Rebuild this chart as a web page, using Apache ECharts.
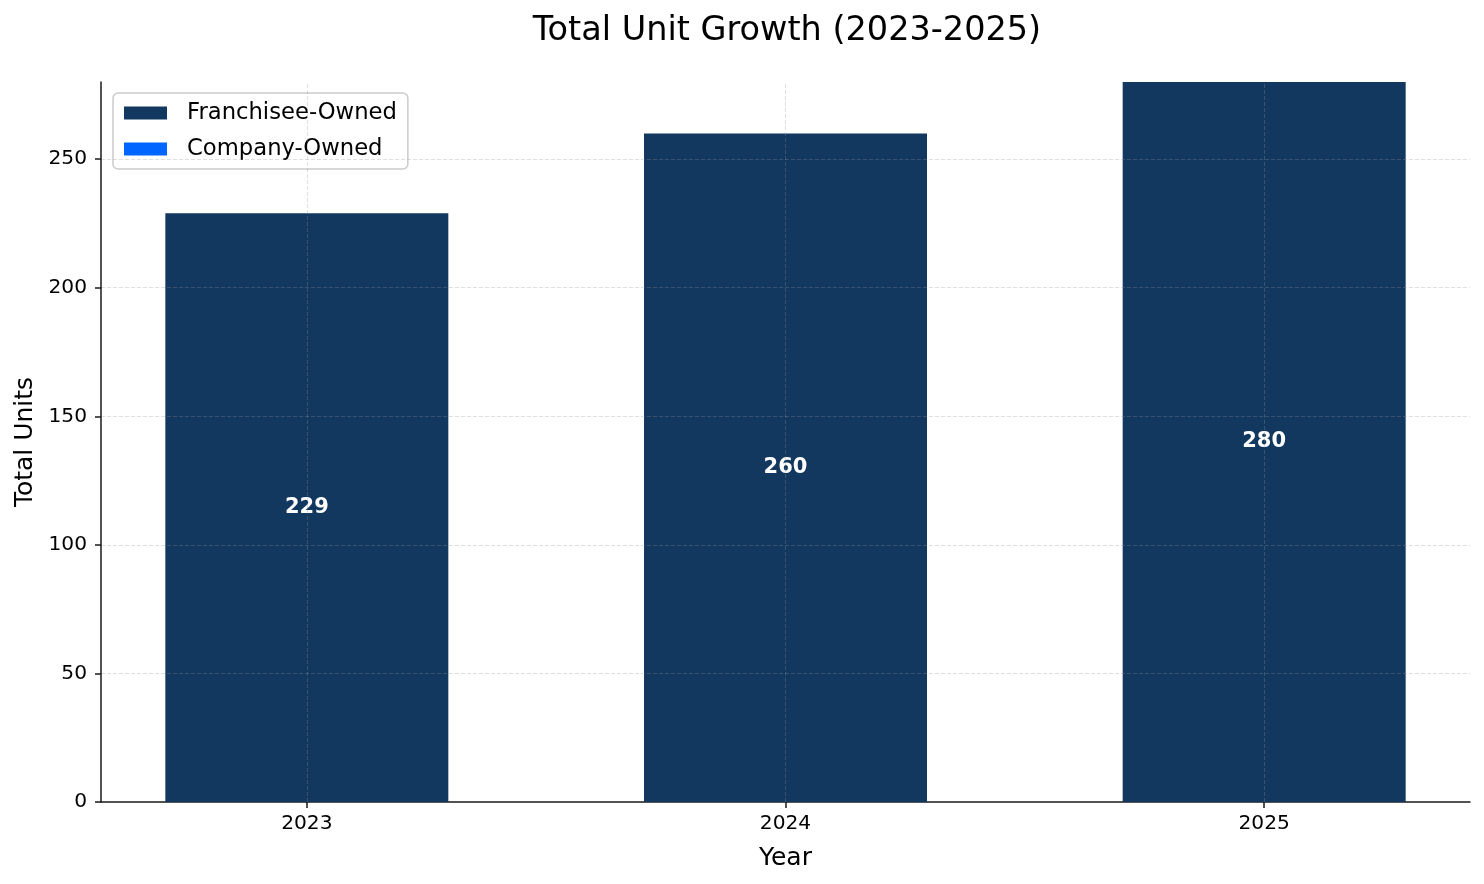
<!DOCTYPE html>
<html>
<head>
<meta charset="utf-8">
<script src="https://cdn.jsdelivr.net/npm/echarts@6.0.0/dist/echarts.min.js"></script>
<style>
html,body{margin:0;padding:0;background:#fff;}
#chart{width:1484px;height:884px;}
</style>
</head>
<body>
<div id="chart"></div>
<script>
var years = ['2023', '2024', '2025'];
var franchiseeOwned = [229, 260, 280];
var companyOwned = [0, 0, 0];
var totals = [229, 260, 280];
var yTicks = [0, 50, 100, 150, 200, 250];

var FONT = 'DejaVu Sans';
var chart = echarts.init(document.getElementById('chart'));
var idx = years.map(function (y, i) { return i; });
var gridLineStyle = { color: 'rgba(150,150,150,0.3)', type: [4, 2], width: 1 };

chart.setOption({
  animation: false,
  backgroundColor: '#ffffff',
  textStyle: { fontFamily: FONT },
  title: {
    text: 'Total Unit Growth (2023-2025)',
    left: 782, top: 9, textAlign: 'center',
    textStyle: { fontFamily: FONT, fontSize: 33.5, fontWeight: 'normal', color: '#000' }
  },
  legend: {
    orient: 'vertical', left: 113, top: 93,
    padding: [8, 11, 8, 11],
    itemWidth: 43, itemHeight: 13, itemGap: 12,
    icon: 'rect',
    selectedMode: false,
    backgroundColor: 'rgba(255,255,255,0.8)',
    borderColor: '#cccccc', borderWidth: 1.5, borderRadius: 5,
    textStyle: { fontFamily: FONT, fontSize: 22.7, color: '#000', padding: [0, 0, 0, 15], lineHeight: 24 },
    data: ['Franchisee-Owned', 'Company-Owned']
  },
  grid: { left: 101, right: 14, top: 82, bottom: 82, containLabel: false },
  xAxis: {
    type: 'value', min: -0.43, max: 2.43,
    name: 'Year', nameLocation: 'middle', nameGap: 44,
    nameTextStyle: { fontFamily: FONT, fontSize: 25, color: '#000' },
    axisLine: { show: true, onZero: false, lineStyle: { color: '#1a1a1a', width: 1.5 } },
    axisTick: { show: true, customValues: idx, length: 6, lineStyle: { color: '#1a1a1a', width: 1.5 } },
    axisLabel: {
      customValues: idx, margin: 12,
      fontFamily: FONT, fontSize: 20.2, color: '#000',
      formatter: function (v) { return years[Math.round(v)]; }
    },
    splitLine: { show: false }
  },
  yAxis: {
    type: 'value', min: 0, max: 280, interval: 50, z: 5,
    name: 'Total Units', nameLocation: 'middle', nameGap: 61,
    nameTextStyle: { fontFamily: FONT, fontSize: 25, color: '#000' },
    axisLine: { show: true, onZero: false, lineStyle: { color: '#1a1a1a', width: 1.5 } },
    axisTick: { show: true, length: 6, lineStyle: { color: '#1a1a1a', width: 1.5 } },
    axisLabel: {
      margin: 14, fontFamily: FONT, fontSize: 20.2, color: '#000',
      showMaxLabel: false,
      formatter: function (v) { return yTicks.indexOf(v) >= 0 ? String(v) : ''; }
    },
    splitLine: { show: true, showMinLine: false, showMaxLine: false, lineStyle: gridLineStyle }
  },
  series: [
    {
      name: 'Franchisee-Owned', type: 'bar', stack: 'units',
      barWidth: 283,
      itemStyle: { color: '#13385f' },
      data: franchiseeOwned.map(function (v, i) { return [i, v]; }),
      label: {
        show: true, position: 'inside',
        fontFamily: FONT, fontSize: 21, fontWeight: 'bold', color: '#ffffff',
        formatter: function (p) { return String(totals[p.dataIndex]); }
      },
      markLine: {
        silent: true, symbol: 'none', label: { show: false },
        lineStyle: gridLineStyle, z: 10,
        data: idx.map(function (i) { return { xAxis: i }; })
      }
    },
    {
      name: 'Company-Owned', type: 'bar', stack: 'units',
      barWidth: 283,
      itemStyle: { color: '#0066ff' },
      data: companyOwned.map(function (v, i) { return [i, v]; })
    }
  ]
});
</script>
</body>
</html>
